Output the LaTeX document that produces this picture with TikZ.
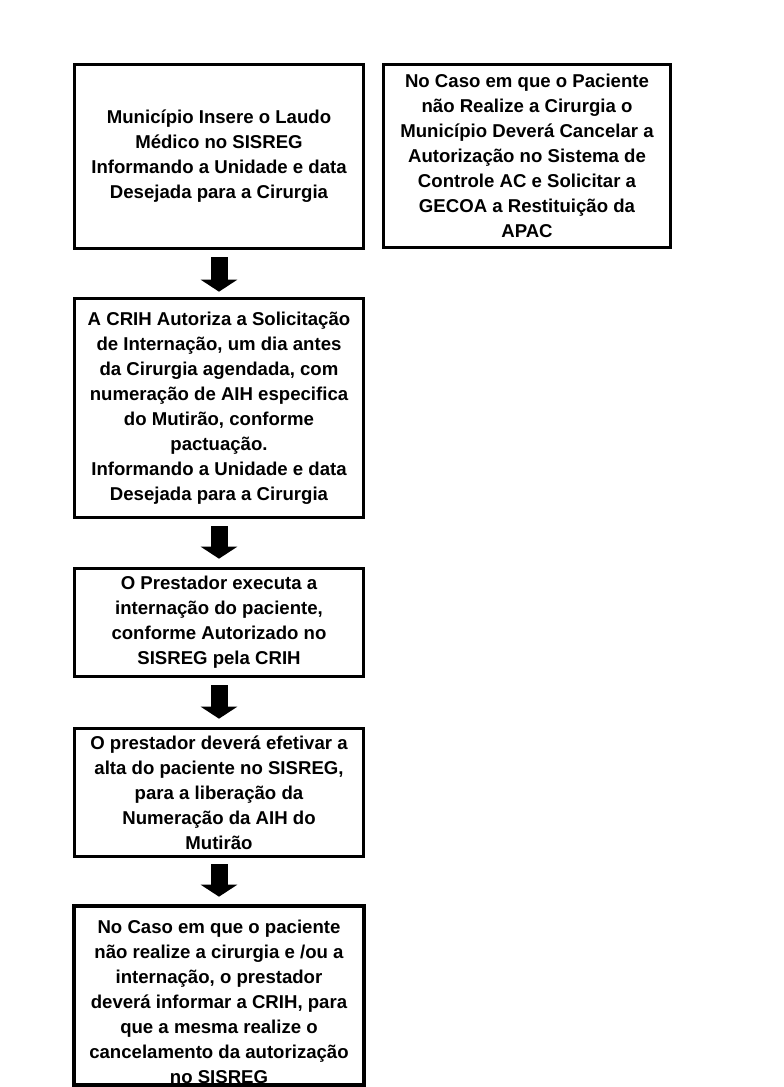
\documentclass[tikz,border=0pt]{standalone}
\usepackage{fontspec}
\setmainfont{Liberation Sans}
\usetikzlibrary{arrows.meta}
\begin{document}
\begin{tikzpicture}[x=1pt,y=-1pt,
  box/.style={draw=black, line width=2.6pt, rectangle, inner sep=0pt, align=center,
    font=\fontsize{18.6}{25}\selectfont\bfseries, minimum width=289pt},
  txt/.style={inner sep=0pt, align=center, font=\fontsize{18.6}{25}\selectfont\bfseries},
  blockarrow/.style={line width=17pt, -{Triangle[width=36pt,length=12pt]}}]
\useasboundingbox (0,0) rectangle (784,1087);
\fill[white] (0,0) rectangle (784,1087);
\node[box, minimum height=184pt] (b1) at (219,156.5) {Município Insere o Laudo\\Médico no SISREG\\Informando a Unidade e data\\Desejada para a Cirurgia};
\node[box, minimum width=287pt, minimum height=183pt] (r1) at (527,156) {No Caso em que o Paciente\\não Realize a Cirurgia o\\Município Deverá Cancelar a\\Autorização no Sistema de\\Controle AC e Solicitar a\\GECOA a Restituição da\\APAC};
\node[box, minimum height=219pt] (b2) at (219,408) {A CRIH Autoriza a Solicitação\\de Internação, um dia antes\\da Cirurgia agendada, com\\numeração de AIH especifica\\do Mutirão, conforme\\pactuação.\\Informando a Unidade e data\\Desejada para a Cirurgia};
\node[box, minimum height=108pt] (b3) at (219,622.5) {O Prestador executa a\\internação do paciente,\\conforme Autorizado no\\SISREG pela CRIH};
\node[box, minimum height=128pt] (b4) at (219,792.5) {O prestador deverá efetivar a\\alta do paciente no SISREG,\\para a liberação da\\Numeração da AIH do\\Mutirão};
\node[box, minimum height=178pt] (b5) at (219,995.5) {};
\begin{scope}
\clip (b5.north west) rectangle (b5.south east);
\node[txt, anchor=north] (t5) at (219,920) {No Caso em que o paciente\\não realize a cirurgia e /ou a\\internação, o prestador\\deverá informar a CRIH, para\\que a mesma realize o\\cancelamento da autorização\\no SISREG};
\end{scope}
\draw[line width=2.6pt] (b5.north west) rectangle (b5.south east);
\draw[blockarrow, shorten <=7.5pt, shorten >=5.5pt] (b1.south) -- (b2.north);
\draw[blockarrow, shorten <=7.5pt, shorten >=8.5pt] (b2.south) -- (b3.north);
\draw[blockarrow, shorten <=7.5pt, shorten >=8.5pt] (b3.south) -- (b4.north);
\draw[blockarrow, shorten <=6.5pt, shorten >=8.5pt] (b4.south) -- (b5.north);
\end{tikzpicture}
\end{document}
